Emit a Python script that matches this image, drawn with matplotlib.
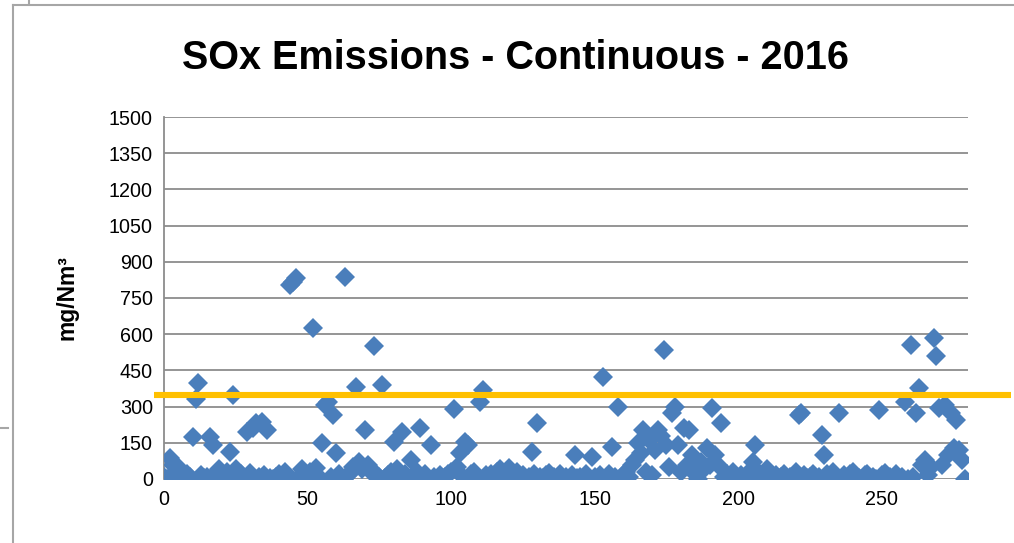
# plot.py
# SOx emissions scatter (continuous monitoring, 2016)

import numpy as np
import matplotlib.pyplot as plt
from matplotlib.lines import Line2D

# daily values, mg/Nm3
sox = [
    10, 0, 85, 60, 30, 50, 15, 5, 20, 10, 175, 330, 398, 15, 5, 10, 175, 140, 25, 40,
    15, 5, 30, 112, 348, 40, 10, 20, 5, 195, 25, 210, 232, 10, 235, 15, 205, 5, 0, 10,
    20, 5, 30, 15, 804, 815, 833, 10, 40, 20, 5, 30, 626, 45, 10, 149, 307, 319, 10, 265,
    108, 20, 5, 837, 15, 30, 50, 381, 70, 40, 203, 60, 30, 551, 20, 10, 390, 5, 15, 30,
    153, 40, 10, 195, 20, 5, 80, 10, 30, 211, 10, 20, 5, 141, 10, 0, 15, 5, 10, 20,
    30, 290, 50, 108, 10, 155, 141, 20, 30, 5, 320, 369, 15, 5, 20, 10, 30, 40, 15, 5,
    45, 20, 10, 30, 5, 15, 0, 10, 112, 20, 232, 10, 5, 15, 25, 5, 10, 0, 20, 5,
    10, 0, 15, 99, 5, 10, 0, 20, 5, 91, 10, 0, 15, 423, 5, 20, 133, 10, 300, 5,
    15, 30, 10, 60, 80, 149, 108, 203, 30, 160, 15, 120, 203, 180, 535, 140, 50, 272, 300, 141,
    30, 211, 60, 203, 100, 20, 0, 70, 40, 128, 60, 294, 99, 60, 232, 10, 20, 5, 30, 10,
    0, 15, 5, 20, 10, 70, 141, 30, 5, 20, 40, 10, 0, 15, 5, 10, 20, 0, 10, 5,
    30, 265, 275, 15, 5, 10, 20, 0, 10, 182, 99, 20, 5, 30, 10, 273, 0, 15, 5, 20,
    30, 10, 5, 0, 15, 20, 5, 10, 0, 286, 15, 25, 5, 10, 0, 20, 5, 10, 320, 0,
    555, 10, 273, 377, 60, 79, 15, 50, 584, 510, 294, 60, 307, 100, 273, 128, 245, 120, 79, 0,
]
days = np.arange(len(sox))

limit = 350
y_ticks = [0, 150, 300, 450, 600, 750, 900, 1050, 1200, 1350, 1500]
x_ticks = [0, 50, 100, 150, 200, 250]

plt.rcParams['font.family'] = ['Liberation Sans', 'DejaVu Sans']

fig = plt.figure(figsize=(10.14, 5.43), dpi=100)
ax = fig.add_axes([0.1617, 0.1179, 0.9546 - 0.1617, 0.7845 - 0.1179])

ax.plot(days, sox, linestyle='none', marker='D', ms=9.8,
        color='#4A7EBB', markeredgewidth=0, zorder=3)

# limit line runs a bit past the plot area on both sides
ax.plot([-3.5, 295], [limit, limit], color='#FFC000', lw=4.4,
        clip_on=False, zorder=4, solid_capstyle='butt')

ax.set_xlim(0, 280)
ax.set_ylim(0, 1500)
ax.set_yticks(y_ticks)
ax.set_xticks(x_ticks)
ax.yaxis.grid(True, color='#8c8c8c', lw=1.3)
ax.set_axisbelow(True)
ax.tick_params(length=0, labelsize=14.2, pad=8)
ax.tick_params(axis='y', pad=8)
for s in ['top', 'right', 'bottom']:
    ax.spines[s].set_visible(False)
ax.spines['left'].set_color('#8c8c8c')
ax.spines['left'].set_linewidth(1.3)

ax.set_ylabel('mg/Nm³', fontsize=16.5, fontweight='bold', labelpad=22)
fig.text(0.508, 0.893, 'SOx Emissions - Continuous - 2016', ha='center',
         va='center', fontsize=28.5, fontweight='bold')

# frame of the pasted chart
fig.add_artist(Line2D([0.0133, 0.0133], [0, 0.991], color='#a6a6a6', lw=1.5))
fig.add_artist(Line2D([0.0133, 1.0], [0.991, 0.991], color='#a6a6a6', lw=1.5))
fig.add_artist(Line2D([0.0286, 0.0286], [0.994, 1.0], color='#a6a6a6', lw=1.5))
fig.add_artist(Line2D([0, 0.008], [0.212, 0.212], color='#a6a6a6', lw=1.5))

fig.savefig('out.png', dpi=100)
